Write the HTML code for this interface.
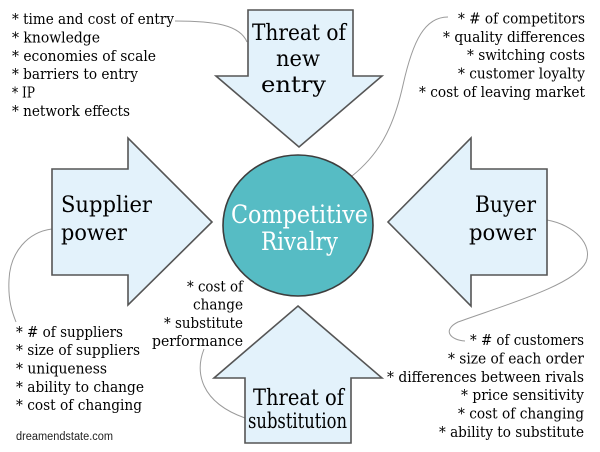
<!DOCTYPE html>
<html><head><meta charset="utf-8"><style>
html,body{margin:0;padding:0;background:#fff;}
svg{display:block;}
.b{font-family:"DejaVu Serif","Liberation Serif",serif;font-size:14.5px;fill:#000;}
.L{font-family:"DejaVu Serif","Liberation Serif",serif;font-size:22.5px;fill:#000;}
.L2{font-family:"DejaVu Serif","Liberation Serif",serif;font-size:21px;fill:#000;}
.c{font-family:"DejaVu Serif","Liberation Serif",serif;font-size:25px;fill:#fff;}
.s{font-family:"Liberation Sans",Arial,sans-serif;font-size:11.5px;fill:#222;}
.ln{fill:none;stroke:#9a9a9a;stroke-width:1;}
.ar{fill:#e3f2fb;stroke:#555;stroke-width:1.6;stroke-linejoin:miter;}
</style></head><body>
<svg width="600" height="452" viewBox="0 0 600 452" xmlns="http://www.w3.org/2000/svg">
<rect width="600" height="452" fill="#fff"/>
<!-- connectors -->
<path class="ln" d="M175,21 C215,21 240,25 247,42"/>
<path class="ln" d="M448,17 C425,17 413,40 403,85 C393,130 378,155 352,176"/>
<path class="ln" d="M52,229 C28,232 10,252 9,280 C8,300 12,312 16,322"/>
<path class="ln" d="M547,220 C575,225 593,245 586,262 C575,285 505,305 458,322 C442,330 450,340 465,341"/>
<path class="ln" d="M204,349 C195,372 200,402 245,418"/>
<!-- arrows -->
<polygon class="ar" points="248,10 353,10 353,76 382,76 299,147 216,76 248,76"/>
<polygon class="ar" points="52,169 128,169 128,138 212,222 128,305 128,275 52,275"/>
<polygon class="ar" points="547,169 471,169 471,138 388,222 471,306 471,275 547,275"/>
<polygon class="ar" points="298,306 382,378 351,378 351,443 245,443 245,378 214,378"/>
<!-- circle -->
<ellipse cx="298" cy="225.5" rx="75" ry="70.5" fill="#56bcc4" stroke="#3d3d3d" stroke-width="1.6"/>
<text class="c" x="231" y="223" textLength="137" lengthAdjust="spacingAndGlyphs">Competitive</text>
<text class="c" x="261" y="250" textLength="77" lengthAdjust="spacingAndGlyphs">Rivalry</text>
<!-- big labels -->
<text class="L" x="252" y="40" textLength="94" lengthAdjust="spacingAndGlyphs">Threat of</text>
<text class="L" x="276" y="66" textLength="44" lengthAdjust="spacingAndGlyphs">new</text>
<text class="L" x="261" y="92" textLength="65" lengthAdjust="spacingAndGlyphs">entry</text>
<text class="L" x="61" y="212" textLength="91" lengthAdjust="spacingAndGlyphs">Supplier</text>
<text class="L" x="61" y="240" textLength="66" lengthAdjust="spacingAndGlyphs">power</text>
<text class="L" x="475" y="212" textLength="61" lengthAdjust="spacingAndGlyphs">Buyer</text>
<text class="L" x="469" y="240" textLength="67" lengthAdjust="spacingAndGlyphs">power</text>
<text class="L" x="253" y="405" textLength="91" lengthAdjust="spacingAndGlyphs">Threat of</text>
<text class="L2" x="248" y="428" textLength="99" lengthAdjust="spacingAndGlyphs">substitution</text>
<!-- top-left bullets -->
<text class="b" x="12" y="24" textLength="162" lengthAdjust="spacingAndGlyphs">* time and cost of entry</text>
<text class="b" x="12" y="42.5" textLength="88" lengthAdjust="spacingAndGlyphs">* knowledge</text>
<text class="b" x="12" y="61" textLength="144" lengthAdjust="spacingAndGlyphs">* economies of scale</text>
<text class="b" x="12" y="79" textLength="126" lengthAdjust="spacingAndGlyphs">* barriers to entry</text>
<text class="b" x="12" y="97.5" textLength="23" lengthAdjust="spacingAndGlyphs">* IP</text>
<text class="b" x="12" y="116" textLength="118" lengthAdjust="spacingAndGlyphs">* network effects</text>
<!-- top-right bullets -->
<text class="b" x="458" y="23.5" textLength="127" lengthAdjust="spacingAndGlyphs">* # of competitors</text>
<text class="b" x="443" y="42" textLength="142" lengthAdjust="spacingAndGlyphs">* quality differences</text>
<text class="b" x="467" y="60" textLength="118" lengthAdjust="spacingAndGlyphs">* switching costs</text>
<text class="b" x="458" y="78.5" textLength="127" lengthAdjust="spacingAndGlyphs">* customer loyalty</text>
<text class="b" x="419" y="97" textLength="166" lengthAdjust="spacingAndGlyphs">* cost of leaving market</text>
<!-- bottom-left bullets -->
<text class="b" x="16" y="337" textLength="107" lengthAdjust="spacingAndGlyphs">* # of suppliers</text>
<text class="b" x="16" y="355" textLength="124" lengthAdjust="spacingAndGlyphs">* size of suppliers</text>
<text class="b" x="16" y="373.5" textLength="91" lengthAdjust="spacingAndGlyphs">* uniqueness</text>
<text class="b" x="16" y="392" textLength="128" lengthAdjust="spacingAndGlyphs">* ability to change</text>
<text class="b" x="16" y="410" textLength="126" lengthAdjust="spacingAndGlyphs">* cost of changing</text>
<text class="s" x="16" y="440" textLength="97" lengthAdjust="spacingAndGlyphs">dreamendstate.com</text>
<!-- middle bullets -->
<text class="b" x="187" y="291.5" textLength="56" lengthAdjust="spacingAndGlyphs">* cost of</text>
<text class="b" x="193" y="309.5" textLength="50" lengthAdjust="spacingAndGlyphs">change</text>
<text class="b" x="164" y="328" textLength="79" lengthAdjust="spacingAndGlyphs">* substitute</text>
<text class="b" x="152" y="346" textLength="91" lengthAdjust="spacingAndGlyphs">performance</text>
<!-- bottom-right bullets -->
<text class="b" x="470" y="345" textLength="114" lengthAdjust="spacingAndGlyphs">* # of customers</text>
<text class="b" x="448" y="363.5" textLength="136" lengthAdjust="spacingAndGlyphs">* size of each order</text>
<text class="b" x="387" y="382" textLength="197" lengthAdjust="spacingAndGlyphs">* differences between rivals</text>
<text class="b" x="461" y="400" textLength="123" lengthAdjust="spacingAndGlyphs">* price sensitivity</text>
<text class="b" x="458" y="418.5" textLength="126" lengthAdjust="spacingAndGlyphs">* cost of changing</text>
<text class="b" x="439" y="437" textLength="145" lengthAdjust="spacingAndGlyphs">* ability to substitute</text>
</svg>
</body></html>
